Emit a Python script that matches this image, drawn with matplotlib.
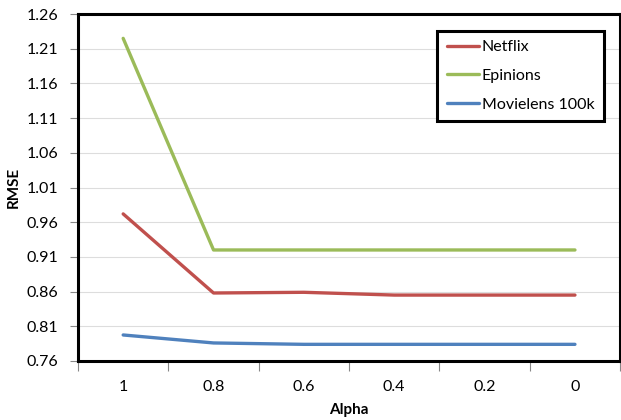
import matplotlib.pyplot as plt
import numpy as np

plt.rcParams['font.family'] = ['Lato', 'DejaVu Sans']

# データ
alpha_labels = ['1', '0.8', '0.6', '0.4', '0.2', '0']
netflix = [0.972, 0.858, 0.859, 0.855, 0.855, 0.855]
epinions = [1.225, 0.920, 0.920, 0.920, 0.920, 0.920]
movielens = [0.7975, 0.786, 0.784, 0.784, 0.784, 0.784]
y_ticks = [0.76, 0.81, 0.86, 0.91, 0.96, 1.01, 1.06, 1.11, 1.16, 1.21, 1.26]

fig = plt.figure(figsize=(6.21, 4.2), dpi=100)
ax = fig.add_axes([0.1256, 0.1405, 0.873, 0.826])

x = np.arange(len(alpha_labels))
ax.plot(x, netflix, color='#C0504D', lw=2.4, label='Netflix', solid_capstyle='round')
ax.plot(x, epinions, color='#9BBB59', lw=2.4, label='Epinions', solid_capstyle='round')
ax.plot(x, movielens, color='#4F81BD', lw=2.4, label='Movielens 100k', solid_capstyle='round')

ax.set_xlim(-0.5, len(alpha_labels) - 0.5)
ax.set_ylim(0.76, 1.26)
ax.set_yticks(y_ticks)
ax.set_yticklabels([f'{v:.2f}' for v in y_ticks], fontsize=11.5)
ax.set_xticks(x)
ax.set_xticklabels(alpha_labels, fontsize=11.5)
ax.set_xticks(np.arange(-0.5, len(alpha_labels)), minor=True)
ax.tick_params(axis='x', which='major', length=0, pad=14)
ax.tick_params(axis='x', which='minor', length=7, color='#888888', width=0.8)
ax.tick_params(axis='y', length=6, color='#888888', width=0.8, pad=8)

ax.grid(axis='y', color='#DDDDDD', lw=0.8)
ax.set_axisbelow(True)
for s in ax.spines.values():
    s.set_linewidth(2.2)
    s.set_color('black')

ax.set_ylabel('RMSE', fontsize=11, fontweight='bold', labelpad=4)
ax.set_xlabel('Alpha', fontsize=11, fontweight='bold', labelpad=6)

leg = ax.legend(loc='upper right', bbox_to_anchor=(0.985, 0.975), fontsize=11.5,
                fancybox=False, framealpha=1, edgecolor='black',
                handlelength=2.0, handletextpad=0.2, labelspacing=0.9,
                borderpad=0.6)
leg.get_frame().set_linewidth(2.2)

fig.savefig('out.png', dpi=100)
